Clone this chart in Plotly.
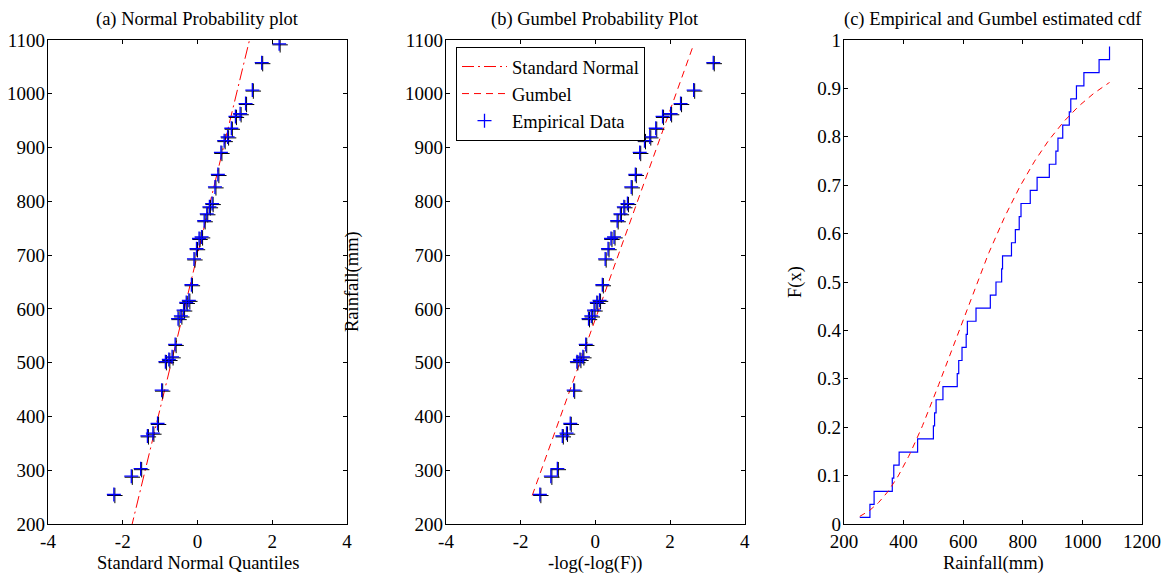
import math
from statistics import NormalDist
import plotly.graph_objects as go

# ---------------- data ----------------
rainfall_mm = [253, 287, 301, 362, 367, 385, 447, 500, 504, 509, 532, 580, 585,
               596, 610, 614, 643, 691, 710, 729, 732, 762, 775, 788, 794, 825,
               848, 889, 911, 918, 934, 956, 961, 980, 1005, 1056, 1091]

# Gumbel parameters (b) line and panel (c) curve
gumbel_line_mu, gumbel_line_beta = 581.0, 194.0
gumbel_cdf_mu, gumbel_cdf_beta = 566.0, 220.0

titles = ["(a) Normal Probability plot", "(b) Gumbel Probability Plot",
          "(c) Empirical and Gumbel estimated cdf"]
x_titles = ["Standard Normal Quantiles", "-log(-log(F))", "Rainfall(mm)"]
y_titles = ["", "Rainfall(mm)", "F(x)"]
legend_names = ["Standard Normal", "Gumbel", "Empirical Data"]

quantile_ticks = [-4, -2, 0, 2, 4]
quantile_ticktext = ["-4", "-2", "0", "2", "4"]
rain_ticks = [200, 300, 400, 500, 600, 700, 800, 900, 1000, 1100]
rain_x_ticks = [200, 400, 600, 800, 1000, 1200]
cdf_ticks = [0, 0.1, 0.2, 0.3, 0.4, 0.5, 0.6, 0.7, 0.8, 0.9, 1]
cdf_ticktext = ["0", "0.1", "0.2", "0.3", "0.4", "0.5", "0.6", "0.7", "0.8", "0.9", "1"]

# ---------------- derived quantities ----------------
data = sorted(rainfall_mm)
n = len(data)
pp = [(i + 0.5) / n for i in range(n)]
nd = NormalDist()
z = [nd.inv_cdf(p) for p in pp]
gumbel_reduced = [-math.log(-math.log(p)) for p in pp]


def prctile(vals, p):
    pos = n * p + 0.5
    lo = int(math.floor(pos))
    frac = pos - lo
    lo = max(1, min(n, lo))
    hi = max(1, min(n, lo + 1))
    return vals[lo - 1] + frac * (vals[hi - 1] - vals[lo - 1])


q1, q3 = prctile(data, 0.25), prctile(data, 0.75)
z1, z3 = nd.inv_cdf(0.25), nd.inv_cdf(0.75)
slope = (q3 - q1) / (z3 - z1)
icpt = q1 - slope * z1
norm_line_z = [quantile_ticks[0], quantile_ticks[-1]]
norm_line_y = [icpt + slope * v for v in norm_line_z]

gl_y = [data[0], data[-1]]
gl_x = [(v - gumbel_line_mu) / gumbel_line_beta for v in gl_y]

m = 200
cdf_x = [data[0] + (data[-1] - data[0]) * k / (m - 1) for k in range(m)]
cdf_y = [math.exp(-math.exp(-(v - gumbel_cdf_mu) / gumbel_cdf_beta)) for v in cdf_x]

# ---------------- style ----------------
FONT = "Liberation Serif"
FS = 18.5
TFS = 19
BLUE = "#0000FF"
RED = "#FF0000"

W, H = 1171, 574
ML, MR, MT, MB = 48, 29, 40, 50
PW = W - ML - MR
PH = H - MT - MB
dom_a = [0.0, 299 / PW]
dom_b = [(446 - ML) / PW, (744.7 - ML) / PW]
dom_c = [(844 - ML) / PW, 1.0]

# pixel shift for the blue "+" relative to its dark shadow
SHIFT = 1.0

fig = go.Figure()

shadow = dict(symbol="cross-thin", size=11, line=dict(color="black", width=1))
plus = dict(symbol="cross-thin", size=10, color=BLUE, line=dict(color=BLUE, width=1.3))

# Panel (a)
fig.add_trace(go.Scatter(x=norm_line_z, y=norm_line_y, mode="lines",
                         line=dict(color=RED, width=1, dash="12px,4px,2px,4px"),
                         name=legend_names[0], legendrank=1,
                         xaxis="x", yaxis="y"))
fig.add_trace(go.Scatter(x=z, y=data, mode="markers", showlegend=False,
                         marker=shadow, xaxis="x", yaxis="y"))
fig.add_trace(go.Scatter(x=z, y=data, mode="markers", showlegend=False,
                         marker=plus, xaxis="x4", yaxis="y4"))

# Panel (b)
fig.add_trace(go.Scatter(x=gl_x, y=gl_y, mode="lines",
                         line=dict(color=RED, width=1, dash="7px,5px"),
                         name=legend_names[1], legendrank=2,
                         xaxis="x2", yaxis="y2"))
fig.add_trace(go.Scatter(x=gumbel_reduced, y=data, mode="markers", showlegend=False,
                         marker=shadow, xaxis="x2", yaxis="y2"))
fig.add_trace(go.Scatter(x=gumbel_reduced, y=data, mode="markers",
                         name=legend_names[2], legendrank=3,
                         marker=plus, xaxis="x5", yaxis="y5"))

# Panel (c)
fig.add_trace(go.Scatter(x=data, y=pp, mode="lines", line_shape="hv",
                         line=dict(color=BLUE, width=1.2), showlegend=False,
                         xaxis="x3", yaxis="y3"))
fig.add_trace(go.Scatter(x=cdf_x, y=cdf_y, mode="lines", showlegend=False,
                         line=dict(color=RED, width=1, dash="6px,5px"),
                         xaxis="x3", yaxis="y3"))


def ax(domain, rng, tickvals, ticktext, anchor, standoff):
    return dict(domain=domain, range=rng, tickvals=tickvals, ticktext=ticktext,
                anchor=anchor, showline=True, linecolor="black", linewidth=1.2,
                mirror="allticks", ticks="inside", ticklen=4, tickwidth=1,
                tickcolor="black", showgrid=False, zeroline=False, automargin=False,
                ticklabelstandoff=standoff,
                tickfont=dict(family=FONT, size=TFS, color="black"))


qr = [-4, 4]
rr = [200, 1100]
dx_q = SHIFT * (qr[1] - qr[0]) / 299
dy_r = SHIFT * (rr[1] - rr[0]) / PH

layout = dict(
    template="none",
    width=W, height=H,
    margin=dict(l=ML, r=MR, t=MT, b=MB),
    paper_bgcolor="white", plot_bgcolor="white",
    font=dict(family=FONT, size=FS, color="black"),
    xaxis=ax(dom_a, qr, quantile_ticks, quantile_ticktext, "y", 0),
    yaxis=ax([0, 1], rr, rain_ticks, [str(v) for v in rain_ticks], "x", -2),
    xaxis2=ax(dom_b, qr, quantile_ticks, quantile_ticktext, "y2", 0),
    yaxis2=ax([0, 1], rr, rain_ticks, [str(v) for v in rain_ticks], "x2", -2),
    xaxis3=ax(dom_c, [200, 1200], rain_x_ticks, [str(v) for v in rain_x_ticks], "y3", 0),
    yaxis3=ax([0, 1], [0, 1], cdf_ticks, cdf_ticktext, "x3", -2),
    xaxis4=dict(overlaying="x", anchor="y4", visible=False, automargin=False,
                range=[qr[0] + dx_q, qr[1] + dx_q]),
    yaxis4=dict(overlaying="y", anchor="x4", visible=False, automargin=False,
                range=[rr[0] - dy_r, rr[1] - dy_r]),
    xaxis5=dict(overlaying="x2", anchor="y5", visible=False, automargin=False,
                range=[qr[0] + dx_q, qr[1] + dx_q]),
    yaxis5=dict(overlaying="y2", anchor="x5", visible=False, automargin=False,
                range=[rr[0] - dy_r, rr[1] - dy_r]),
    showlegend=True,
    legend=dict(x=(456 - ML) / PW, y=(H - MB - 47) / PH, xanchor="left", yanchor="top",
                bgcolor="white", bordercolor="black", borderwidth=1,
                font=dict(family=FONT, size=FS, color="black"),
                itemwidth=45, tracegroupgap=0),
)
fig.update_layout(**layout)

ann = []
doms = [dom_a, dom_b, dom_c]
for i in range(3):
    cx = (doms[i][0] + doms[i][1]) / 2
    ann.append(dict(text=titles[i], x=cx, y=(H - MB - 20) / PH, xref="paper", yref="paper",
                    xanchor="center", yanchor="middle", showarrow=False,
                    font=dict(family=FONT, size=FS, color="black")))
    ann.append(dict(text=x_titles[i], x=cx, y=(H - MB - 563) / PH, xref="paper", yref="paper",
                    xanchor="center", yanchor="middle", showarrow=False,
                    font=dict(family=FONT, size=FS, color="black")))
ylab_px = [None, 352, 795]
for i in (1, 2):
    ann.append(dict(text=y_titles[i], x=(ylab_px[i] - ML) / PW, y=0.5, xref="paper",
                    yref="paper", xanchor="center", yanchor="middle", textangle=-90,
                    showarrow=False, font=dict(family=FONT, size=FS, color="black")))
fig.update_layout(annotations=ann)

fig.write_html("out.html", config={"displayModeBar": False},
               post_script="document.body.style.margin='0px';")
